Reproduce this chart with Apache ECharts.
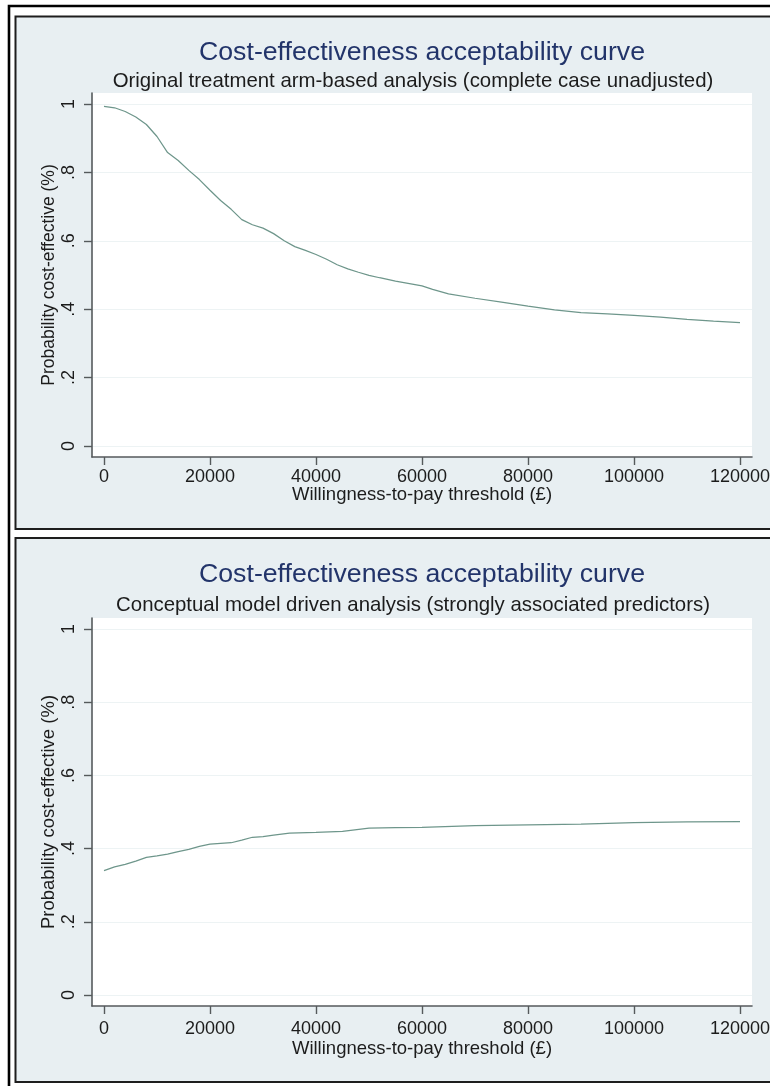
<!DOCTYPE html>
<html>
<head>
<meta charset="utf-8">
<title>Cost-effectiveness acceptability curves</title>
<script src="https://cdn.jsdelivr.net/npm/echarts@6/dist/echarts.min.js"></script>
<style>
  html, body { margin: 0; padding: 0; background: #ffffff; }
  #chart { width: 770px; height: 1086px; }
</style>
</head>
<body>
<div id="chart"></div>
<script>
// Willingness-to-pay thresholds (£) and probability cost-effective, per analysis
const wtpArm = [0, 2000, 4000, 6000, 8000, 10000, 12000, 14000, 16000, 18000, 20000,
  22000, 24000, 26000, 28000, 30000, 32000, 34000, 36000, 38000, 40000, 42000, 44000,
  46000, 48000, 50000, 52000, 55000, 60000, 62000, 65000, 70000, 75000, 80000, 85000,
  90000, 95000, 100000, 105000, 110000, 115000, 120000];
const probArm = [0.993, 0.989, 0.978, 0.962, 0.940, 0.905, 0.858, 0.835, 0.806, 0.779, 0.748,
  0.718, 0.692, 0.662, 0.647, 0.637, 0.621, 0.600, 0.583, 0.572, 0.560, 0.546, 0.530,
  0.518, 0.508, 0.499, 0.492, 0.482, 0.468, 0.458, 0.445, 0.432, 0.421, 0.409, 0.398,
  0.390, 0.386, 0.382, 0.377, 0.370, 0.365, 0.361];

const wtpModel = [0, 2000, 4000, 6000, 8000, 10000, 12000, 14000, 16000, 18000, 20000,
  22000, 24000, 26000, 28000, 30000, 32000, 35000, 40000, 45000, 50000, 55000, 60000,
  70000, 80000, 90000, 100000, 110000, 120000];
const probModel = [0.340, 0.350, 0.357, 0.366, 0.376, 0.380, 0.385, 0.392, 0.398, 0.406, 0.412,
  0.414, 0.416, 0.423, 0.431, 0.433, 0.437, 0.442, 0.444, 0.447, 0.456, 0.457, 0.458,
  0.463, 0.465, 0.467, 0.471, 0.473, 0.474];

const xTicks = [0, 20000, 40000, 60000, 80000, 100000, 120000];
const yTicks = [0, 0.2, 0.4, 0.6, 0.8, 1];

const mainTitle = 'Cost-effectiveness acceptability curve';
const subTitles = [
  'Original treatment arm-based analysis (complete case unadjusted)',
  'Conceptual model driven analysis (strongly associated predictors)'
];
const xTitle = 'Willingness-to-pay threshold (£)';
const yTitle = 'Probability cost-effective (%)';

const FONT = '"Liberation Sans", Arial, sans-serif';
const AXIS_COLOR = '#555a5c';
const TEXT_COLOR = '#1c1c1c';
const LINE_COLOR = '#6e968b';
const REGION_BG = '#e8eff2';

function pairs(xs, ys) { return xs.map((x, i) => [x, ys[i]]); }

function yLabel(v) {
  if (v === 0) return '0';
  if (v === 1) return '1';
  return String(+v.toFixed(1)).replace(/^0/, '');
}

function makeX(gridIndex, margin, nameGap) {
  return {
    gridIndex, type: 'value', min: -2264, max: 122264,
    axisLine: { show: true, onZero: false, lineStyle: { color: AXIS_COLOR, width: 1.6 } },
    axisTick: { show: true, customValues: xTicks, length: 8, lineStyle: { color: AXIS_COLOR, width: 1.4 } },
    axisLabel: { customValues: xTicks, margin, fontSize: 18, color: TEXT_COLOR, fontFamily: FONT,
      hideOverlap: false, formatter: v => String(Math.round(v)) },
    splitLine: { show: false },
    name: xTitle, nameLocation: 'middle', nameGap, nameMoveOverlap: false,
    nameTextStyle: { fontSize: 18.5, color: TEXT_COLOR, fontFamily: FONT }
  };
}

function makeY(gridIndex, pad, nameGap, nameSize) {
  return {
    gridIndex, type: 'value', min: -pad, max: 1 + pad,
    axisLine: { show: true, onZero: false, lineStyle: { color: AXIS_COLOR, width: 1.6 } },
    axisTick: { show: true, customValues: yTicks, length: 8, lineStyle: { color: AXIS_COLOR, width: 1.4 } },
    axisLabel: { customValues: yTicks, rotate: 90, margin: 14, fontSize: 18, color: TEXT_COLOR,
      fontFamily: FONT, formatter: yLabel, hideOverlap: false },
    splitLine: { show: true, lineStyle: { color: '#edf3f4', width: 1.2 } },
    name: yTitle, nameLocation: 'middle', nameGap, nameMoveOverlap: false,
    nameTextStyle: { fontSize: nameSize, color: TEXT_COLOR, fontFamily: FONT }
  };
}

function titleText(text, left, top, size, color) {
  return {
    text, left, top, textAlign: 'center', padding: 0,
    textStyle: { fontSize: size, lineHeight: size, color, fontWeight: 'normal', fontFamily: FONT }
  };
}

const chart = echarts.init(document.getElementById('chart'), null, { renderer: 'canvas' });

chart.setOption({
  backgroundColor: '#ffffff',
  animation: false,
  graphic: [
    // outer frame round both panels
    { type: 'polyline', z: -20, silent: true,
      shape: { points: [[9, 1100], [9, 6], [790, 6]] },
      style: { stroke: '#000000', lineWidth: 2.6, fill: null } },
    // panel backgrounds with their borders
    { type: 'rect', z: -20, silent: true,
      shape: { x: 15.5, y: 16.5, width: 800, height: 512.5 },
      style: { fill: REGION_BG, stroke: '#1e1e1e', lineWidth: 2 } },
    { type: 'rect', z: -20, silent: true,
      shape: { x: 15.5, y: 538, width: 800, height: 544 },
      style: { fill: REGION_BG, stroke: '#1e1e1e', lineWidth: 2 } }
  ],
  title: [
    titleText(mainTitle, 422, 39, 26.7, '#22346a'),
    titleText(subTitles[0], 413, 71, 20.4, TEXT_COLOR),
    titleText(mainTitle, 422, 561, 26.7, '#22346a'),
    titleText(subTitles[1], 413, 595, 20.4, TEXT_COLOR)
  ],
  grid: [
    { left: 92, top: 93, width: 660, height: 364, show: true, backgroundColor: '#ffffff',
      borderWidth: 0, outerBoundsMode: 'none', containLabel: false },
    { left: 92, top: 618, width: 660, height: 388, show: true, backgroundColor: '#ffffff',
      borderWidth: 0, outerBoundsMode: 'none', containLabel: false }
  ],
  xAxis: [makeX(0, 11, 28.5), makeX(1, 14, 33)],
  yAxis: [makeY(0, 0.0322, 34, 17.5), makeY(1, 0.0301, 34, 18.5)],
  series: [
    { type: 'line', xAxisIndex: 0, yAxisIndex: 0, data: pairs(wtpArm, probArm),
      showSymbol: false, smooth: false, lineStyle: { color: LINE_COLOR, width: 1.25 } },
    { type: 'line', xAxisIndex: 1, yAxisIndex: 1, data: pairs(wtpModel, probModel),
      showSymbol: false, smooth: false, lineStyle: { color: LINE_COLOR, width: 1.25 } }
  ]
});
</script>
</body>
</html>
